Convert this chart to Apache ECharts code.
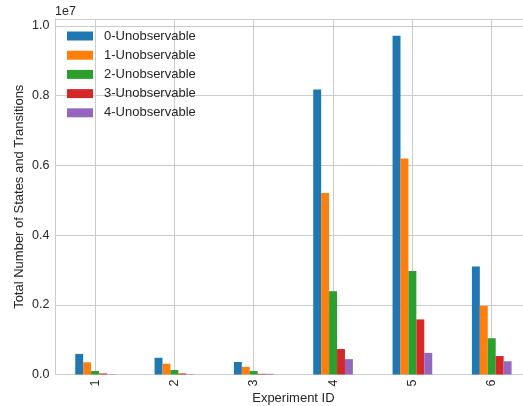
<!DOCTYPE html>
<html>
<head>
<meta charset="utf-8">
<script src="https://cdn.jsdelivr.net/npm/echarts@6/dist/echarts.min.js"></script>
<style>html,body{margin:0;padding:0;background:#fff}#c{width:523px;height:406px}</style>
</head>
<body>
<div id="c"></div>
<script>
var categories = ['1', '2', '3', '4', '5', '6'];
var seriesNames = ['0-Unobservable', '1-Unobservable', '2-Unobservable', '3-Unobservable', '4-Unobservable'];
var unobs0 = [590000, 480000, 360000, 8180000, 9720000, 3100000];
var unobs1 = [350000, 310000, 220000, 5210000, 6200000, 1970000];
var unobs2 = [100000, 130000, 100000, 2390000, 2970000, 1040000];
var unobs3 = [30000, 30000, 20000, 730000, 1580000, 530000];
var unobs4 = [10000, 10000, 20000, 440000, 620000, 380000];
var yTicks = ['0.0', '0.2', '0.4', '0.6', '0.8', '1.0'];
var colors = ['#1f77b4', '#ff7f0e', '#2ca02c', '#d62728', '#9467bd'];

var values = [unobs0, unobs1, unobs2, unobs3, unobs4];
var font = 'Liberation Sans, Arial, sans-serif';
var chart = echarts.init(document.getElementById('c'), null, {renderer: 'canvas'});
chart.setOption({
  animation: false,
  color: colors,
  textStyle: {fontFamily: font},
  grid: {left: 55.4, top: 19, width: 476, bottom: 31.5, show: false,
    containLabel: false, outerBoundsMode: 'none'},
  legend: {
    orient: 'vertical', left: 62, top: 24, itemWidth: 26, itemHeight: 9, itemGap: 5.2,
    icon: 'rect', data: seriesNames,
    textStyle: {fontFamily: font, fontSize: 13, color: '#262626', lineHeight: 14, padding: [0, 0, 0, 6]}
  },
  xAxis: [{
    type: 'category', data: categories,
    name: 'Experiment ID', nameLocation: 'middle', nameGap: 17, nameMoveOverlap: false,
    nameTextStyle: {fontFamily: font, fontSize: 13, color: '#262626'},
    axisLine: {show: true, lineStyle: {color: '#cccccc', width: 1}},
    axisTick: {show: false, alignWithLabel: true},
    axisLabel: {rotate: 90, margin: 5, fontFamily: font, fontSize: 12.5, color: '#262626'},
    splitLine: {show: true, alignWithLabel: true, lineStyle: {color: '#cccccc', width: 1}}
  }, {
    type: 'category', data: categories, position: 'top',
    axisLine: {show: true, lineStyle: {color: '#cccccc', width: 1}},
    axisTick: {show: false}, axisLabel: {show: false}, splitLine: {show: false}
  }],
  yAxis: {
    type: 'value', min: 0, max: 10200000, interval: 2000000,
    name: 'Total Number of States and Transitions', nameLocation: 'middle', nameGap: 29, nameMoveOverlap: false,
    nameTextStyle: {fontFamily: font, fontSize: 13, color: '#262626'},
    axisLine: {show: true, lineStyle: {color: '#cccccc', width: 1}},
    axisTick: {show: false},
    axisLabel: {margin: 6, fontFamily: font, fontSize: 12.5, color: '#262626',
      formatter: function (v) { return yTicks[Math.round(v / 2000000)]; }},
    splitLine: {show: true, lineStyle: {color: '#cccccc', width: 1}}
  },
  graphic: [{type: 'text', left: 55, top: 5, style: {text: '1e7', fontFamily: font, fontSize: 12.5, fill: '#262626'}}],
  series: seriesNames.map(function (n, i) {
    return {name: n, type: 'bar', xAxisIndex: 0, data: values[i], barGap: '0%', barCategoryGap: '50%'};
  })
});
</script>
</body>
</html>
